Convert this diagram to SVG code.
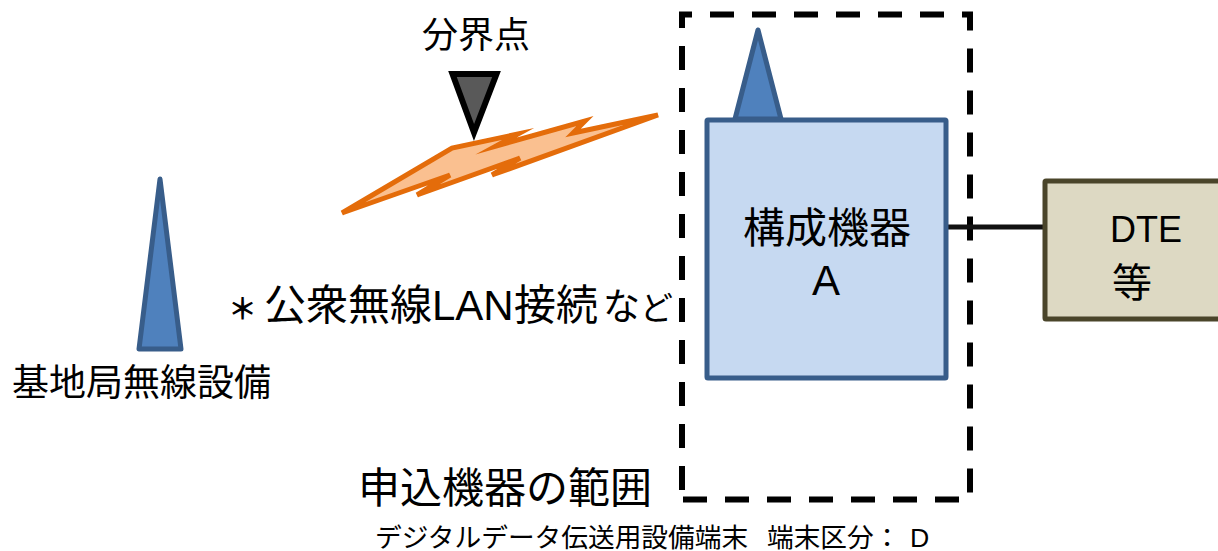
<svg xmlns="http://www.w3.org/2000/svg" width="1218" height="551" viewBox="0 0 1218 551">
<style>
text{font-family:"Liberation Sans","Noto Sans CJK JP",sans-serif;fill:#000}
.ant{fill:#4f81bd;stroke:#385d8a;stroke-width:5;stroke-linejoin:round}
.t42{font-size:42px}
.dash{fill:none;stroke:#000;stroke-width:6;stroke-dasharray:24 18}
</style>
<rect width="1218" height="551" fill="#fff"/>
<g id="scope">
<path class="dash" stroke-dashoffset="11" d="M679 14.5H970V499.5H682"/>
<path class="dash" stroke-dashoffset="8" d="M682 12V490"/>
<text x="358" y="503" class="t42">申込機器の範囲</text>
</g>
<g id="connectors">
<line x1="947" y1="227" x2="1045" y2="227" stroke="#111" stroke-width="5"/>
</g>
<g id="antenna-a"><path class="ant" d="M758 30L735 119H781Z"/></g>
<g id="device-a">
<rect x="707" y="120" width="239" height="258" rx="1" fill="#c6d9f1" stroke="#385d8a" stroke-width="5"/>
<text x="827" y="243" text-anchor="middle" class="t42">構成機器</text>
<text x="826" y="295" text-anchor="middle" class="t42">A</text>
</g>
<g id="dte">
<rect x="1045" y="181" width="180" height="138" rx="1" fill="#ddd9c3" stroke="#4a452a" stroke-width="5"/>
<text x="1146" y="242" text-anchor="middle" font-size="36">DTE</text>
<text x="1132" y="297" text-anchor="middle" font-size="40">等</text>
</g>
<g id="base-station">
<path class="ant" d="M160 179L139 349H181Z"/>
<text x="12" y="396" font-size="37">基地局無線設備</text>
</g>
<g id="wireless">
<path d="M342 213L450 175L417 195L520 158L492 175L658 115L573 133L585 121L496 146L518 134L452 148Z" fill="#fac090" stroke="#e46c0a" stroke-width="5" stroke-linejoin="miter" stroke-miterlimit="9"/>
<text y="320" font-size="42"><tspan x="228" font-weight="bold" font-size="29">＊</tspan><tspan x="264">公衆無線LAN</tspan><tspan x="514">接続</tspan><tspan x="603" font-size="37">な</tspan><tspan x="640" font-size="33">ど</tspan></text>
</g>
<g id="demarcation">
<path d="M452.500 74H496.500L474 132.500Z" fill="#595959" stroke="#000" stroke-width="6"/>
<text x="422" y="48" font-size="36">分界点</text>
</g>
<g id="caption">
<text y="547" font-size="26.700"><tspan x="375">デジタルデータ伝送用設備端末</tspan><tspan x="767">端末区分：</tspan><tspan x="910">D</tspan></text>
</g>
</svg>
